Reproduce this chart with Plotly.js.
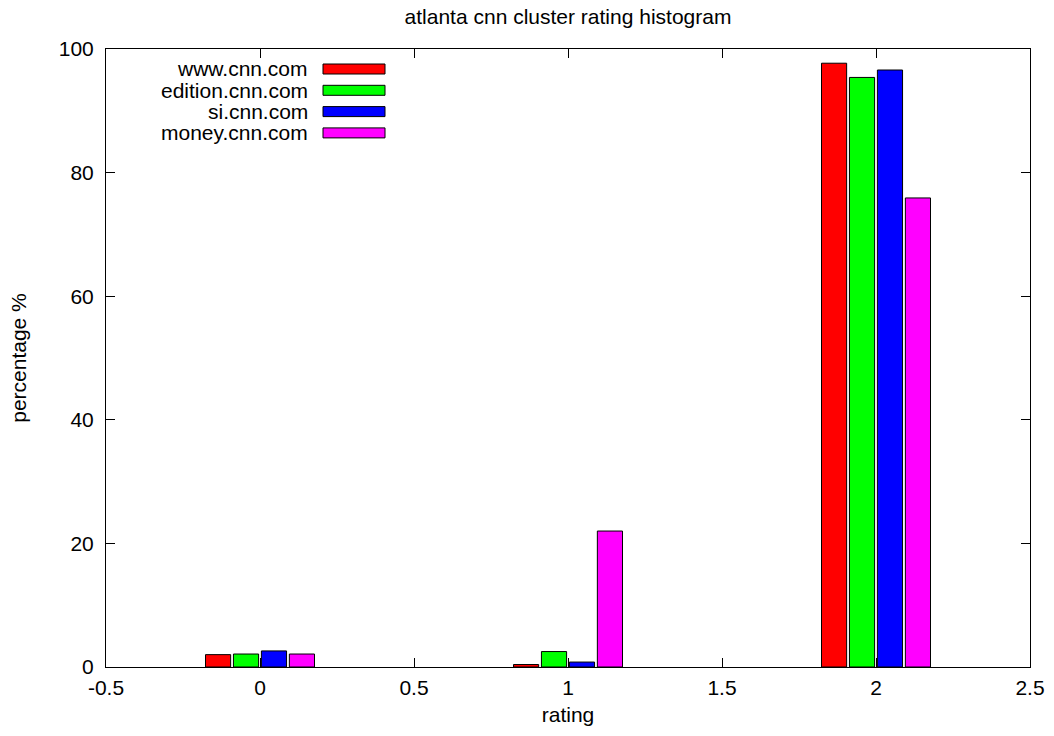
<!DOCTYPE html>
<html>
<head>
<meta charset="utf-8">
<script src="https://cdn.plot.ly/plotly-3.0.1.min.js"></script>
<style>
  html, body { margin: 0; padding: 0; background: #ffffff; }
  #chart { width: 1054px; height: 736px; }
</style>
</head>
<body>
<div id="chart"></div>
<script>
// ---- data ----
const categories = [0, 1, 2];
const seriesNames = ['www.cnn.com', 'edition.cnn.com', 'si.cnn.com', 'money.cnn.com'];
const wwwValues = [2.0, 0.4, 97.7];
const editionValues = [2.1, 2.5, 95.4];
const siValues = [2.6, 0.8, 96.6];
const moneyValues = [2.1, 22.0, 75.9];
const xTickVals = [-0.5, 0, 0.5, 1, 1.5, 2, 2.5];
const xTickText = ['-0.5', '0', '0.5', '1', '1.5', '2', '2.5'];
const yTickVals = [0, 20, 40, 60, 80, 100];
const yTickText = ['0', '20', '40', '60', '80', '100'];

// ---- styles ----
const seriesColors = ['#ff0000', '#00ff00', '#0000ff', '#ff00ff'];
const seriesValues = [wwwValues, editionValues, siValues, moneyValues];
const FONT = 'Liberation Sans, Arial, Helvetica, sans-serif';
const FS = 21;

const W = 1054, H = 736;
const M = { l: 106, r: 24, t: 49, b: 69 };
const plotW = W - M.l - M.r, plotH = H - M.t - M.b;
const px2x = p => (p - M.l) / plotW;
const py2y = p => (H - M.b - p) / plotH;

const traces = seriesNames.map((name, i) => ({
  type: 'bar',
  name: name,
  x: categories,
  y: seriesValues[i],
  marker: { color: seriesColors[i], line: { color: '#000000', width: 1 } },
  showlegend: false,
  hoverinfo: 'x+y+name'
}));

// custom legend (text right-aligned, swatch to the right)
const legendTextRight = 310, swX0 = 323, swX1 = 385, rowY0 = 69, rowStep = 21.3, swHalf = 5;
const annotations = [];
const shapes = [];
seriesNames.forEach((name, i) => {
  const cy = rowY0 + i * rowStep;
  annotations.push({
    xref: 'paper', yref: 'paper', x: px2x(legendTextRight), y: py2y(cy),
    xanchor: 'right', yanchor: 'middle', text: name, showarrow: false,
    font: { family: FONT, size: FS, color: '#000000' }
  });
  shapes.push({
    type: 'rect', xref: 'paper', yref: 'paper',
    x0: px2x(swX0), x1: px2x(swX1), y0: py2y(cy + swHalf), y1: py2y(cy - swHalf),
    fillcolor: seriesColors[i], line: { color: '#000000', width: 1 }
  });
});

const axisCommon = {
  showline: true, linecolor: '#000000', linewidth: 1, mirror: 'ticks',
  ticks: 'inside', ticklen: 9, tickwidth: 1, tickcolor: '#000000',
  showgrid: false, zeroline: false,
  tickfont: { family: FONT, size: FS, color: '#000000' }
};

const layout = {
  width: W, height: H,
  margin: M,
  paper_bgcolor: '#ffffff', plot_bgcolor: '#ffffff',
  font: { family: FONT, size: FS, color: '#000000' },
  title: {
    text: 'atlanta cnn cluster rating histogram',
    font: { family: FONT, size: FS, color: '#000000' },
    x: px2x((M.l + W - M.r) / 2), xref: 'paper', xanchor: 'center',
    y: 1 - 17 / H, yref: 'container', yanchor: 'middle'
  },
  barmode: 'group',
  bargap: 0.637,
  bargroupgap: 0.1,
  xaxis: Object.assign({}, axisCommon, {
    range: [-0.5, 2.5],
    tickmode: 'array', tickvals: xTickVals, ticktext: xTickText,
    ticklabelstandoff: 2,
    title: { text: 'rating', font: { family: FONT, size: FS, color: '#000000' }, standoff: 9 }
  }),
  yaxis: Object.assign({}, axisCommon, {
    range: [0, 100],
    tickmode: 'array', tickvals: yTickVals, ticktext: yTickText,
    ticklabelstandoff: 7,
    title: { text: 'percentage %', font: { family: FONT, size: FS, color: '#000000' }, standoff: 26 }
  }),
  annotations: annotations,
  shapes: shapes
};

Plotly.newPlot('chart', traces, layout, { displayModeBar: false, staticPlot: true });
</script>
</body>
</html>
